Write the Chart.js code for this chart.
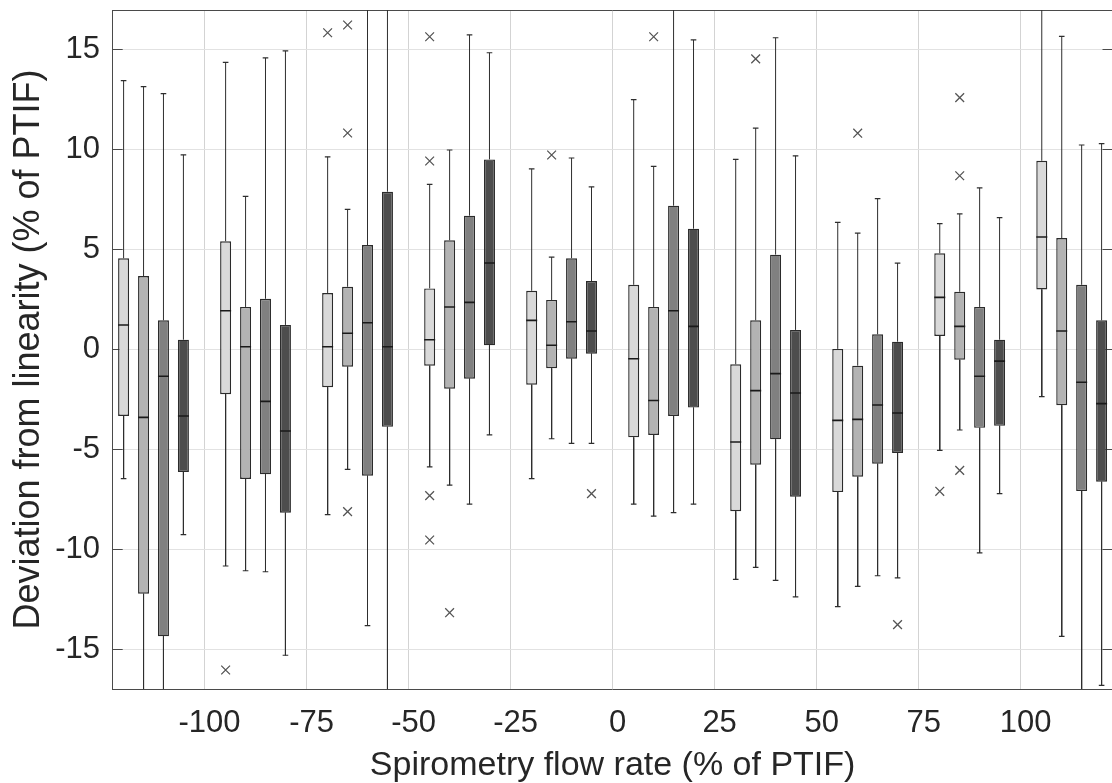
<!DOCTYPE html>
<html>
<head>
<meta charset="utf-8">
<script src="https://cdn.jsdelivr.net/npm/chart.js"></script>
<style>
  html, body { margin: 0; padding: 0; background: #fff; overflow: hidden; }
  canvas { display: block; }
</style>
</head>
<body>
<canvas id="boxChart" width="1120" height="783"></canvas>
<script>
// centre of each flow-rate band
const flowRates = [-112.5, -87.5, -62.5, -37.5, -12.5, 12.5, 37.5, 62.5, 87.5, 112.5];
const xTicks = [-100, -75, -50, -25, 0, 25, 50, 75, 100];
const yTicks = [-15, -10, -5, 0, 5, 10, 15];

// one row per series, light -> dark
const whiskerHi = [
    [13.46, 14.38, 9.65, 8.27, 9.04, 12.51, 9.52, 6.37, 6.30, 18],
    [13.16, 7.67, 7.02, 9.99, 4.63, 9.17, 11.09, 5.83, 6.79, 15.68],
    [12.81, 14.60, 18, 15.75, 9.59, 18, 15.61, 7.55, 8.09, 10.24],
    [9.75, 14.95, 18, 14.86, 8.14, 15.50, 9.70, 4.33, 6.60, 10.31]
];
const q3 = [
    [4.57, 5.42, 2.83, 3.06, 2.94, 3.24, -0.74, 0.03, 4.82, 9.45],
    [3.68, 2.13, 3.14, 5.47, 2.48, 2.13, 1.46, -0.81, 2.89, 5.58],
    [1.46, 2.54, 5.23, 6.70, 4.57, 7.20, 4.75, 0.76, 2.13, 3.24],
    [0.49, 1.23, 7.90, 9.52, 3.43, 6.05, 0.98, 0.39, 0.49, 1.46]
];
const medians = [
    [1.23, 1.94, 0.14, 0.49, 1.46, -0.46, -4.63, -3.55, 2.61, 5.63],
    [-3.40, 0.14, 0.81, 2.13, 0.21, -2.55, -2.06, -3.50, 1.16, 0.93],
    [-1.34, -2.60, 1.34, 2.36, 1.39, 1.94, -1.21, -2.78, -1.34, -1.64],
    [-3.33, -4.08, 0.14, 4.33, 0.93, 1.16, -2.18, -3.18, -0.58, -2.71]
];
const q1 = [
    [-3.33, -2.24, -1.89, -0.81, -1.76, -4.40, -8.10, -7.14, 0.68, 3.01],
    [-12.23, -6.48, -0.86, -1.96, -0.94, -4.28, -5.77, -6.37, -0.51, -2.79],
    [-14.36, -6.25, -6.32, -1.46, -0.46, -3.33, -4.50, -5.72, -3.92, -7.09],
    [-6.13, -8.17, -3.87, 0.21, -0.21, -2.91, -7.37, -5.18, -3.82, -6.62]
];
const whiskerLo = [
    [-6.47, -10.84, -8.27, -5.88, -6.47, -7.74, -11.51, -12.88, -5.05, -2.36],
    [-18, -11.08, -6.00, -6.79, -4.47, -8.34, -10.91, -11.86, -4.03, -14.36],
    [-18, -11.13, -13.83, -7.74, -4.70, -8.17, -11.56, -11.33, -10.18, -18],
    [-9.27, -15.31, -18, -4.28, -4.70, -7.74, -12.39, -11.44, -7.22, -16.82]
];
// [band index, series index, value]
const outliers = [
    [1, 0, -16.05],
    [2, 0, 15.86],
    [2, 1, 16.25], [2, 1, 10.84], [2, 1, -8.12],
    [3, 0, 15.66], [3, 0, 9.44], [3, 0, -7.32], [3, 0, -9.54],
    [3, 1, -13.18],
    [4, 1, 9.74],
    [4, 3, -7.22],
    [5, 1, 15.66],
    [6, 1, 14.55],
    [7, 1, 10.83],
    [7, 3, -13.78],
    [8, 0, -7.10],
    [8, 1, 12.61], [8, 1, 8.70], [8, 1, -6.05]
];

const fills = ['#d9d9d9', '#b3b3b3', '#808080', '#4d4d4d'];
const shift = [-7.33, -2.44, 2.44, 7.33];   // box position inside a band
const yMin = -17, yMax = 17;
const fontFamily = "'Liberation Sans', Arial, sans-serif";
const textColor = '#262626';
const frameColor = '#4a4a4a';

const xPos = (s, i) => flowRates[i] + shift[s];
const inView = v => v > yMin && v < yMax;

const datasets = [];
const caps = [];
const mids = [];

fills.forEach((fill, s) => {
    datasets.push({
        type: 'bar',
        data: flowRates.map((f, i) => ({ x: xPos(s, i), y: [q1[s][i], q3[s][i]] })),
        backgroundColor: fill,
        borderColor: '#2b2b2b',
        borderWidth: 1.4,
        borderSkipped: false,
        grouped: false,
        maxBarThickness: 11,
        order: 3
    });

    const whisk = [];
    flowRates.forEach((f, i) => {
        const x = xPos(s, i);
        whisk.push({ x, y: q3[s][i] }, { x, y: whiskerHi[s][i] }, { x, y: null });
        whisk.push({ x, y: q1[s][i] }, { x, y: whiskerLo[s][i] }, { x, y: null });
        if (inView(whiskerHi[s][i])) caps.push({ x, y: whiskerHi[s][i] });
        if (inView(whiskerLo[s][i])) caps.push({ x, y: whiskerLo[s][i] });
        mids.push({ x, y: medians[s][i] });
    });
    datasets.push({
        type: 'line',
        data: whisk,
        borderColor: '#2e2e2e',
        borderWidth: 1,
        pointRadius: 0,
        spanGaps: false,
        order: 4
    });
});

datasets.push({
    type: 'scatter',
    data: caps,
    pointStyle: 'line',
    pointRadius: 2.8,
    borderColor: '#2e2e2e',
    borderWidth: 1.2,
    order: 2
});
datasets.push({
    type: 'scatter',
    data: mids,
    pointStyle: 'line',
    pointRadius: 5.5,
    borderColor: '#1a1a1a',
    borderWidth: 1.6,
    order: 1
});
datasets.push({
    type: 'scatter',
    data: outliers.map(o => ({ x: xPos(o[1], o[0]), y: o[2] })),
    pointStyle: 'crossRot',
    pointRadius: 6.2,
    borderColor: '#555',
    borderWidth: 1.3,
    order: 0
});

const setTicks = list => scale => { scale.ticks = list.map(v => ({ value: v })); };

// fixed axis sizes, no extra label padding around the plot
const fixWidth = w => s => { s.width = w; s.paddingTop = 0; s.paddingBottom = 0; };
const fixHeight = h => s => { s.height = h; s.paddingLeft = 0; s.paddingRight = 0; };

new Chart(document.getElementById('boxChart'), {
    type: 'bar',
    data: { datasets },
    options: {
        responsive: false,
        animation: false,
        devicePixelRatio: 1,
        layout: { padding: { left: 0, right: 4.5, top: 10, bottom: 0 } },
        plugins: { legend: { display: false }, tooltip: { enabled: false } },
        scales: {
            x: {
                type: 'linear',
                position: 'bottom',
                min: -122.5,
                max: 122.5,
                offset: false,
                afterBuildTicks: setTicks(xTicks),
                afterFit: fixHeight(94),
                grid: { color: '#d3d3d3', offset: false, drawTicks: false },
                border: { display: true, color: frameColor, width: 1 },
                ticks: { font: { family: fontFamily, size: 31, lineHeight: 1 }, color: textColor, padding: 19, labelOffset: 5, maxRotation: 0, autoSkip: false },
                title: { display: true, text: 'Spirometry flow rate (% of PTIF)', color: textColor, font: { family: fontFamily, size: 34, lineHeight: 1 }, padding: 0 }
            },
            x2: {
                type: 'linear',
                position: 'top',
                min: -122.5,
                max: 122.5,
                afterBuildTicks: setTicks([]),
                afterFit: fixHeight(0),
                grid: { display: false },
                border: { display: true, color: frameColor, width: 1 },
                ticks: { display: false }
            },
            y: {
                type: 'linear',
                min: yMin,
                max: yMax,
                afterBuildTicks: setTicks(yTicks),
                afterFit: fixWidth(112.7),
                grid: { color: '#e2e2e2', tickLength: -10, tickColor: frameColor, tickWidth: 1 },
                border: { display: true, color: frameColor, width: 1 },
                ticks: { font: { family: fontFamily, size: 31 }, color: textColor, padding: 22.7 },
                title: { display: true, text: 'Deviation from linearity (% of PTIF)', color: textColor, font: { family: fontFamily, size: 36, lineHeight: 1 }, padding: { top: 11, bottom: 0 } }
            },
            y2: {
                type: 'linear',
                position: 'right',
                min: yMin,
                max: yMax,
                afterBuildTicks: setTicks(yTicks),
                afterFit: fixWidth(0),
                grid: { drawOnChartArea: false, tickLength: -10, tickColor: frameColor, tickWidth: 1 },
                border: { display: true, color: frameColor, width: 1 },
                ticks: { display: false }
            }
        }
    }
});
</script>
</body>
</html>
